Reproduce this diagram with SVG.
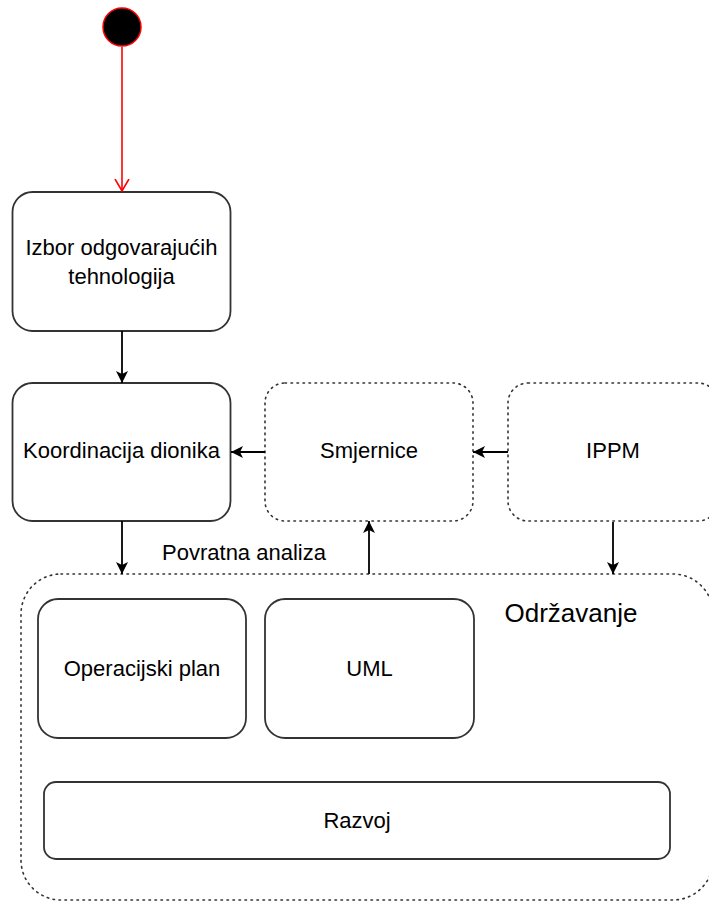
<svg xmlns="http://www.w3.org/2000/svg" width="709" height="901" viewBox="0 0 709 901">
  <style>
    .box { fill: #ffffff; stroke: #333333; stroke-width: 1.8; }
    .dot { fill: none; stroke: #333333; stroke-width: 1.6; stroke-dasharray: 1.5 4.5; stroke-linecap: round; }
    .lbl { font-family: "Liberation Sans", Arial, sans-serif; font-size: 22px; fill: #000000; text-anchor: middle; }
    .edge { fill: none; stroke: #000000; stroke-width: 1.8; }
  </style>
  <defs>
    <marker id="arr" markerUnits="userSpaceOnUse" markerWidth="14" markerHeight="12" refX="12" refY="6" orient="auto">
      <path d="M0,0 L12,6 L0,12 L3,6 z" fill="#000000"/>
    </marker>
    <marker id="open" markerUnits="userSpaceOnUse" markerWidth="14" markerHeight="16" refX="12" refY="8" orient="auto">
      <path d="M0,1 L12,8 L0,15" fill="none" stroke="#ff0000" stroke-width="1.6"/>
    </marker>
  </defs>

  <g id="start">
    <circle cx="122" cy="27" r="19" fill="#000000" stroke="#ff0000" stroke-width="1.5"/>
  </g>

  <g id="odrzavanje">
    <rect class="dot" x="21" y="574" width="692" height="326" rx="40" ry="40"/>
    <text class="lbl" x="571" y="622" style="font-size:26px">Održavanje</text>
  </g>

  <g id="izbor">
    <rect class="box" x="12.5" y="192" width="218" height="139" rx="20" ry="20"/>
    <text class="lbl" x="121.5" y="255">Izbor odgovarajućih</text>
    <text class="lbl" x="121.5" y="284">tehnologija</text>
  </g>

  <g id="koordinacija">
    <rect class="box" x="12.5" y="383" width="218" height="138" rx="20" ry="20"/>
    <text class="lbl" x="121.5" y="458">Koordinacija dionika</text>
  </g>

  <g id="smjernice">
    <rect class="dot" x="265" y="383" width="208" height="138" rx="20" ry="20"/>
    <text class="lbl" x="369" y="458">Smjernice</text>
  </g>

  <g id="ippm">
    <rect class="dot" x="508" y="383" width="210" height="138" rx="20" ry="20"/>
    <text class="lbl" x="613" y="458">IPPM</text>
  </g>

  <g id="operacijski">
    <rect class="box" x="38" y="599" width="208" height="139" rx="20" ry="20"/>
    <text class="lbl" x="142" y="676">Operacijski plan</text>
  </g>

  <g id="uml">
    <rect class="box" x="265" y="599" width="209" height="139" rx="20" ry="20"/>
    <text class="lbl" x="369.5" y="676">UML</text>
  </g>

  <g id="razvoj">
    <rect class="box" x="44" y="782" width="626" height="77" rx="12" ry="12"/>
    <text class="lbl" x="357" y="828">Razvoj</text>
  </g>

  <g id="connectors">
    <line x1="122" y1="47" x2="122" y2="191" stroke="#ff0000" stroke-width="1.6" marker-end="url(#open)"/>
    <line class="edge" x1="122" y1="331" x2="122" y2="383" marker-end="url(#arr)"/>
    <line class="edge" x1="265" y1="452" x2="231" y2="452" marker-end="url(#arr)"/>
    <line class="edge" x1="508" y1="452" x2="473" y2="452" marker-end="url(#arr)"/>
    <line class="edge" x1="122" y1="521" x2="122" y2="574" marker-end="url(#arr)"/>
    <line class="edge" x1="369" y1="574" x2="369" y2="521" marker-end="url(#arr)"/>
    <line class="edge" x1="613" y1="522" x2="613" y2="574" marker-end="url(#arr)"/>
    <text class="lbl" x="244" y="560">Povratna analiza</text>
  </g>
</svg>
